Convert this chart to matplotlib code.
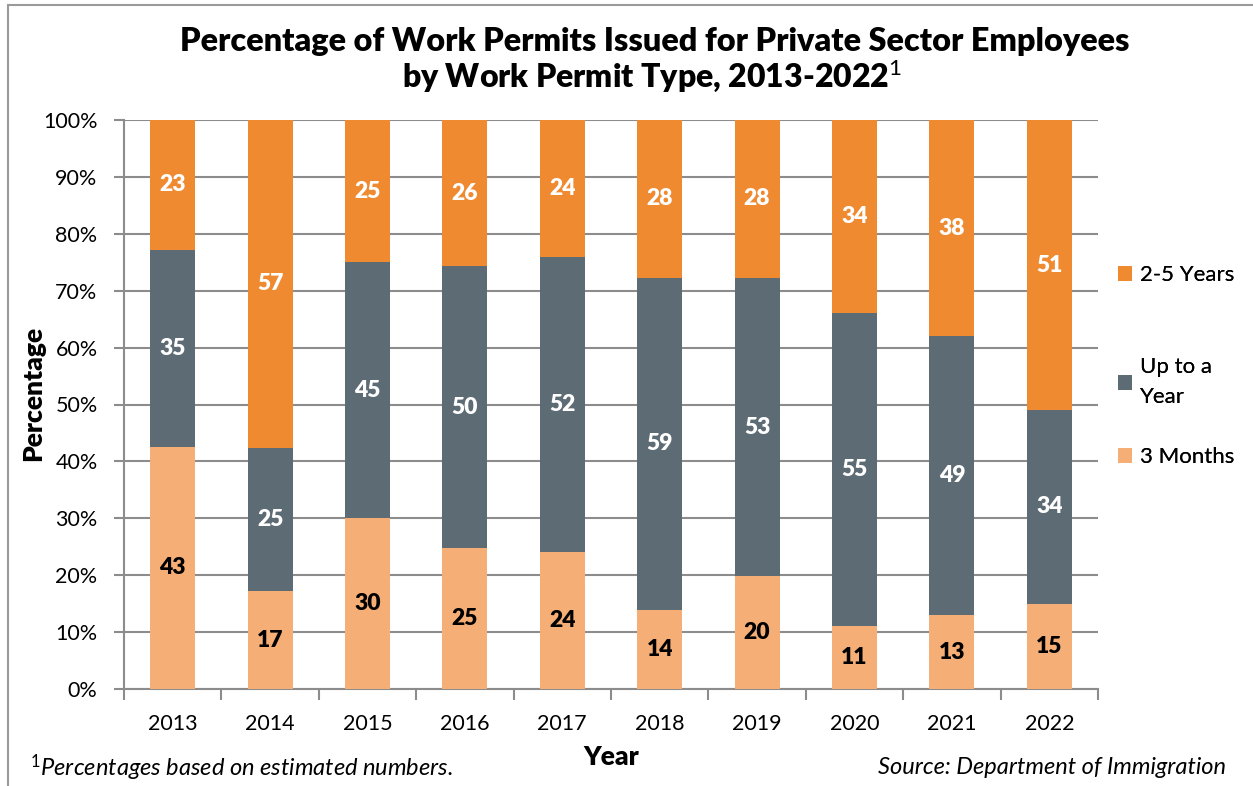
import matplotlib
matplotlib.use("Agg")
import matplotlib.pyplot as plt
import numpy as np
from matplotlib.patches import Rectangle

plt.rcParams['font.family'] = ['Lato', 'DejaVu Sans']
plt.rcParams['mathtext.fontset'] = 'custom'
plt.rcParams['mathtext.rm'] = 'Lato'
plt.rcParams['mathtext.it'] = 'Lato:italic'
plt.rcParams['mathtext.bf'] = 'Lato:bold'

years = ["2013", "2014", "2015", "2016", "2017", "2018", "2019", "2020", "2021", "2022"]
three_months = [43, 17, 30, 25, 24, 14, 20, 11, 13, 15]
up_to_year = [35, 25, 45, 50, 52, 59, 53, 55, 49, 34]
two_five_years = [23, 57, 25, 26, 24, 28, 28, 34, 38, 51]
series_names = ["3 Months", "Up to a\nYear", "2-5 Years"]
series_colors = ["#F5AE76", "#5D6B75", "#EF8A30"]
label_colors = ["black", "white", "white"]
yticks = [0, 10, 20, 30, 40, 50, 60, 70, 80, 90, 100]

series = [np.array(three_months, float), np.array(up_to_year, float), np.array(two_five_years, float)]
totals = sum(series)

fig = plt.figure(figsize=(12.53, 7.86), dpi=100)
fig.patches.append(Rectangle((8/1253, -0.1), 1.2, 1.1 - 5/786, transform=fig.transFigure,
                             fill=False, edgecolor="#9A9A9A", linewidth=1.5))

ax = fig.add_axes([124/1253, 1 - 689/786, 974/1253, 569/786])
x = np.arange(len(years))
bottom = np.zeros(len(years))
handles = []
for vals, name, col, lc in zip(series, series_names, series_colors, label_colors):
    h = vals / totals * 100
    b = ax.bar(x, h, 0.46, bottom=bottom, color=col, label=name, zorder=3)
    handles.append(b)
    for xi, hi, bi, v in zip(x, h, bottom, vals):
        ax.text(xi, bi + hi / 2, f"{int(v)}", ha="center", va="center",
                color=lc, fontsize=16.5, fontweight="heavy", zorder=4)
    bottom = bottom + h

ax.set_xlim(-0.5, len(years) - 0.5)
ax.set_ylim(0, 100)
ax.set_yticks(yticks)
ax.set_yticklabels([f"{t}%" for t in yticks], fontsize=15.5)
ax.set_xticks(x)
ax.set_xticklabels(years, fontsize=15.5)
ax.set_xticks(np.arange(-0.5, len(years), 1), minor=True)
ax.tick_params(axis="x", which="major", length=0, pad=18)
ax.tick_params(axis="x", which="minor", length=8, width=1.5, color="#8C8C8C", direction="out")
ax.tick_params(axis="y", length=7, width=1.5, color="#8C8C8C", direction="out", pad=12)
ax.yaxis.grid(True, color="#8C8C8C", linewidth=1.5, zorder=0)
ax.set_axisbelow(True)
for s in ["top", "right"]:
    ax.spines[s].set_visible(False)
for s in ["left", "bottom"]:
    ax.spines[s].set_color("#8C8C8C")
    ax.spines[s].set_linewidth(1.5)

ax.set_ylabel("Percentage", fontsize=19, fontweight="heavy")
ax.yaxis.set_label_coords(-0.081, 0.52)
ax.set_xlabel("Year", fontsize=19, fontweight="heavy", labelpad=8)

fig.text(655/1253, 1 - 42/786, "Percentage of Work Permits Issued for Private Sector Employees",
         ha="center", va="center", fontsize=23.3, fontweight="heavy")
fig.text(652/1253, 1 - 76/786, r"by Work Permit Type, 2013-2022$^{1}$",
         ha="center", va="center", fontsize=23, fontweight="heavy")

# legend entries, one legend per entry so they can sit at the reference's spacing
leg_y = [457, 382, 275]
for hnd, name, yy in zip(handles, series_names, leg_y):
    lg = fig.legend(handles=[hnd], labels=[name], loc="center left",
                    bbox_to_anchor=(1118/1253, 1 - yy/786), frameon=False, fontsize=16,
                    handlelength=0.65, handleheight=0.65, handletextpad=0.35,
                    borderpad=0, borderaxespad=0)
    for t in lg.get_texts():
        t.set_linespacing(1.6)
    fig.add_artist(lg)

fig.text(30/1253, 1 - 768/786, r"$^{1}$Percentages based on estimated numbers.",
         ha="left", va="center", fontsize=17, style="italic")
fig.text(1226/1253, 1 - 768/786, "Source: Department of Immigration",
         ha="right", va="center", fontsize=17, style="italic")

fig.savefig("out.png", dpi=100)
